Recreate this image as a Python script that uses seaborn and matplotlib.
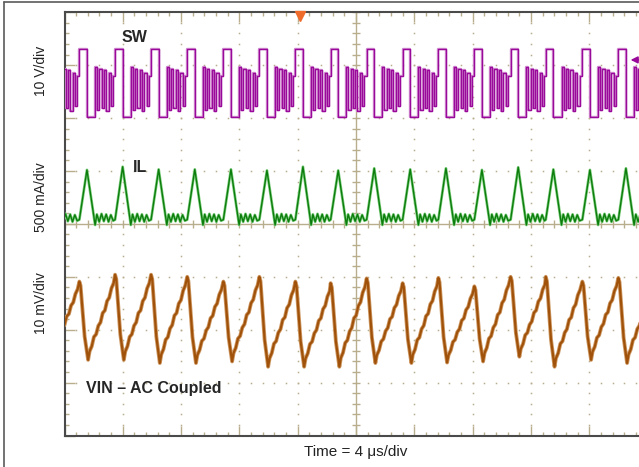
import numpy as np
import pandas as pd
import matplotlib
matplotlib.use("Agg")
import matplotlib.pyplot as plt
import seaborn as sns
from matplotlib.lines import Line2D

# ---------------- data read from the scope screen ----------------
# time in microseconds (4 us/div, 10 div), amplitude in divisions (0 = centre line)
sw_rise_us = [-1.45, 1.02, 3.47, 5.94, 8.42, 10.90, 13.37, 15.84, 18.26,
              20.73, 23.20, 25.65, 28.12, 30.61, 33.02, 35.53, 38.00]
# SW node: flat segments of one switching cycle (offset from rising edge)
sw_seg_t = [0.00, 0.53, 1.08, 1.22, 1.37, 1.52, 1.68, 1.84, 2.00, 2.16, 2.32]
sw_seg_v = [3.30, 2.02, 2.97, 2.15, 2.92, 2.20, 2.90, 2.13, 2.86, 2.22, 2.80]
# IL: one cycle shape (offset from rising edge); peak value per cycle below
il_t = [0.00, 0.52, 1.08, 1.20, 1.36, 1.52, 1.68, 1.84, 2.00, 2.16, 2.32]
il_v = [0.08, None, -0.02, 0.18, 0.04, 0.19, 0.05, 0.18, 0.04, 0.17, 0.06]
il_peak = [1.04, 1.02, 1.08, 1.03, 1.03, 1.03, 1.01, 1.08, 1.01, 1.05,
           1.03, 1.05, 1.02, 1.07, 1.03, 1.02, 1.05]
# VIN (AC coupled): peak at each rising edge, trough after it
vin_peak = [-1.05, -1.09, -0.96, -0.96, -1.00, -1.09, -1.00, -1.09, -1.12,
            -1.03, -1.12, -1.02, -1.18, -1.00, -1.00, -1.09, -1.02]
vin_trough = [-2.55, -2.57, -2.57, -2.63, -2.63, -2.60, -2.70, -2.70, -2.70,
              -2.63, -2.63, -2.62, -2.60, -2.51, -2.70, -2.57, -2.63]
vin_drop_t = [0.00, 0.08, 0.22, 0.36, 0.50, 0.60]
vin_drop_f = [1.00, 0.95, 0.62, 0.30, 0.12, 0.00]
vin_rise_t = [0.70, 0.85, 1.00, 1.15, 1.30, 1.45, 1.60, 1.75, 1.90, 2.05, 2.20, 2.35]
vin_rise_f = [0.10, 0.16, 0.27, 0.30, 0.40, 0.44, 0.55, 0.58, 0.69, 0.73, 0.84, 0.90]

# ---------------- build traces ----------------
n = len(sw_rise_us)
period = float(np.mean(np.diff(sw_rise_us)))
sw_t, sw_v, il_tt, il_vv, vin_t, vin_v = [], [], [], [], [], []
for i, t0 in enumerate(sw_rise_us):
    t_next = sw_rise_us[i + 1] if i + 1 < n else t0 + period
    for j, (ts, lv) in enumerate(zip(sw_seg_t, sw_seg_v)):
        te = sw_seg_t[j + 1] if j + 1 < len(sw_seg_t) else t_next - t0
        sw_t += [t0 + ts, t0 + te]
        sw_v += [lv, lv]
    for ts, lv in zip(il_t, il_v):
        il_tt.append(t0 + ts)
        il_vv.append(il_peak[i] if lv is None else lv)
    p_next = vin_peak[i + 1] if i + 1 < n else vin_peak[i]
    for ts, f in zip(vin_drop_t, vin_drop_f):
        vin_t.append(t0 + ts)
        vin_v.append(vin_trough[i] + f * (vin_peak[i] - vin_trough[i]))
    for ts, f in zip(vin_rise_t, vin_rise_f):
        vin_t.append(t0 + ts)
        vin_v.append(vin_trough[i] + f * (p_next - vin_trough[i]))
il_tt.append(sw_rise_us[-1] + period); il_vv.append(il_v[0])
vin_t.append(sw_rise_us[-1] + period); vin_v.append(vin_peak[-1])

sw_df = pd.DataFrame({"t": sw_t, "v": sw_v})
il_df = pd.DataFrame({"t": il_tt, "v": il_vv})
vin_df = pd.DataFrame({"t": vin_t, "v": vin_v})

# ---------------- figure ----------------
sns.set_style("white")
plt.rcParams["font.family"] = ["Liberation Sans", "DejaVu Sans"]
W, H = 639, 467
fig = plt.figure(figsize=(W / 100, H / 100), dpi=100)
L, R, T, B = 64.5, 647.5, 12.3, 435.5
ax = fig.add_axes([L / W, 1 - B / H, (R - L) / W, (B - T) / H])
ax.set_xlim(0, 40)
ax.set_ylim(-4, 4)

tan = "#b8ae8e"
# dotted graticule
dot_y = np.arange(-4, 4.001, 0.2)
dot_x = np.arange(0, 40.001, 0.8)
for xd in range(1, 10):
    if xd == 5:
        continue
    ax.plot([xd * 4] * len(dot_y), dot_y, ls="none", marker="s", ms=1.1,
            color=tan, mew=0, zorder=1)
for yd in range(-3, 4):
    if yd == 0:
        continue
    ax.plot(dot_x, [yd] * len(dot_x), ls="none", marker="s", ms=1.1,
            color=tan, mew=0, zorder=1)
# centre axes with cross ticks
ax.axhline(0, color=tan, lw=1.0, zorder=1)
ax.axvline(20, color=tan, lw=1.0, zorder=1)
ax.plot(dot_x, [0] * len(dot_x), ls="none", marker="|", ms=6, mew=1.0, color=tan, zorder=1)
ax.plot([20] * len(dot_y), dot_y, ls="none", marker="_", ms=6, mew=1.0, color=tan, zorder=1)

# frame ticks
ax.set_xticks(np.arange(0, 40.001, 4))
ax.set_xticks(dot_x, minor=True)
ax.set_yticks(np.arange(-4, 4.001, 1))
ax.set_yticks(dot_y, minor=True)
ax.tick_params(which="both", direction="in", top=True, bottom=True, left=True,
               right=False, labelbottom=False, labelleft=False, color=tan, width=1.0)
ax.tick_params(which="major", length=7.5)
ax.tick_params(which="minor", length=3.2)
for s in ["left", "top", "bottom"]:
    ax.spines[s].set_color("#4a4a4a")
    ax.spines[s].set_linewidth(1.5)
ax.spines["right"].set_visible(False)

# traces: light underlay + dark trace
sns.lineplot(data=sw_df, x="t", y="v", sort=False, estimator=None, ax=ax,
             color="#d28ed2", lw=1.7, zorder=3)
sns.lineplot(data=sw_df, x="t", y="v", sort=False, estimator=None, ax=ax,
             color="#9a0a9a", lw=1.0, zorder=4)
sns.lineplot(data=il_df, x="t", y="v", sort=False, estimator=None, ax=ax,
             color="#7fcf7f", lw=2.0, zorder=3)
sns.lineplot(data=il_df, x="t", y="v", sort=False, estimator=None, ax=ax,
             color="#0c7d0c", lw=1.0, zorder=4)
sns.lineplot(data=vin_df, x="t", y="v", sort=False, estimator=None, ax=ax,
             color="#cf9a66", lw=2.8, zorder=3)
sns.lineplot(data=vin_df, x="t", y="v", sort=False, estimator=None, ax=ax,
             color="#a0520a", lw=1.6, zorder=4)
ax.set_xlabel("")
ax.set_ylabel("")
ax.set_xlim(0, 40)
ax.set_ylim(-4, 4)

# markers
ax.plot([16.16], [3.93], marker="v", ms=7, color="#ef6b2b", clip_on=False, zorder=6)
ax.annotate("", xy=(38.65, 3.10), xytext=(39.6, 3.10),
            arrowprops=dict(arrowstyle="-|>", color="#9a0a9a", lw=1.2,
                            mutation_scale=10), annotation_clip=False, zorder=6)

# labels
def ftext(x, y, s, **kw):
    fig.text(x / W, 1 - y / H, s, **kw)

ftext(134.5, 38, "SW", fontsize=11.5, fontweight="bold", ha="center", va="center")
ftext(140.3, 167, "IL", fontsize=11.5, fontweight="bold", ha="center", va="center")
ftext(86, 389, "VIN \u2013 AC Coupled", fontsize=11.5, fontweight="bold",
      ha="left", va="center")
ftext(41, 71, "10 V/div", fontsize=10, rotation=90, ha="center", va="center", color="#222222")
ftext(41, 197, "500 mA/div", fontsize=10, rotation=90, ha="center", va="center", color="#222222")
ftext(41, 303, "10 mV/div", fontsize=10, rotation=90, ha="center", va="center", color="#222222")
ftext(355.5, 452, "Time = 4 \u03bcs/div", fontsize=11, ha="center", va="center", color="#222222")

# outer border
bc = "#5a5a5a"
fig.add_artist(Line2D([4 / W, 1], [1 - 2 / H, 1 - 2 / H], color=bc, lw=1.2,
                      transform=fig.transFigure))
fig.add_artist(Line2D([4 / W, 4 / W], [0, 1 - 2 / H], color=bc, lw=1.2,
                      transform=fig.transFigure))

fig.savefig("out.png", dpi=100)
